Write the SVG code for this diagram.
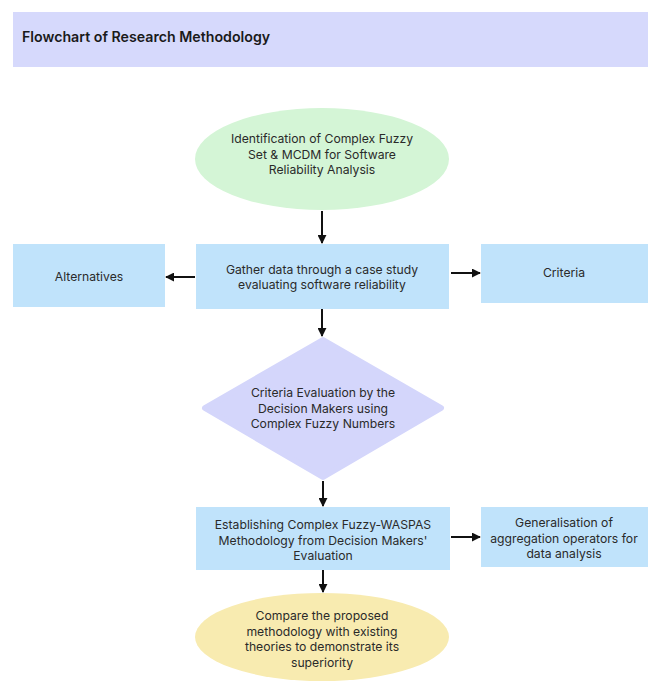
<svg xmlns="http://www.w3.org/2000/svg" width="655" height="681" viewBox="0 0 655 681">
<defs>
<style>
.t{font-family:"Inter","Lato","DejaVu Sans",sans-serif;font-size:12.2px;fill:#2a2a2a;text-anchor:middle}
.box{fill:#c0e3fb}
.c{stroke:#111;stroke-width:2;fill:none}
</style>
<marker id="ah" viewBox="0 0 10 10" refX="9" refY="5" markerWidth="4.5" markerHeight="4.5" orient="auto" markerUnits="strokeWidth">
<path d="M0,0 L10,5 L0,10 z" fill="#111"/>
</marker>
</defs>
<rect width="655" height="681" fill="#fff"/>
<g id="title">
<rect x="13" y="12" width="635" height="55" fill="#d6d9fc"/>
<text x="22" y="42" style="font-family:'Inter','DejaVu Sans',sans-serif;font-size:14.2px;font-weight:600;fill:#1a1a1a">Flowchart of Research Methodology</text>
</g>
<g id="identification">
<ellipse cx="322" cy="159" rx="127" ry="51" fill="#d4f5d6"/>
<text class="t" x="322" y="143">Identification of Complex Fuzzy</text>
<text class="t" x="322" y="158.5">Set &amp; MCDM for Software</text>
<text class="t" x="322" y="174">Reliability Analysis</text>
</g>
<g id="gather">
<rect class="box" x="196" y="244" width="253" height="65"/>
<text class="t" x="322" y="274">Gather data through a case study</text>
<text class="t" x="322" y="289">evaluating software reliability</text>
</g>
<g id="alternatives">
<rect class="box" x="13" y="244" width="152" height="63"/>
<text class="t" x="89" y="281">Alternatives</text>
</g>
<g id="criteria">
<rect class="box" x="481" y="244" width="167" height="59"/>
<text class="t" x="564" y="277">Criteria</text>
</g>
<g id="evaluation">
<path d="M323,340 L441,408 L323,477 L205,408 Z" fill="#d4d6fb" stroke="#d4d6fb" stroke-width="6" stroke-linejoin="round"/>
<text class="t" x="323" y="397">Criteria Evaluation by the</text>
<text class="t" x="323" y="412.5">Decision Makers using</text>
<text class="t" x="323" y="428">Complex Fuzzy Numbers</text>
</g>
<g id="establishing">
<rect class="box" x="196" y="507" width="254" height="63"/>
<text class="t" x="323" y="529">Establishing Complex Fuzzy-WASPAS</text>
<text class="t" x="323" y="544.5">Methodology from Decision Makers'</text>
<text class="t" x="323" y="560">Evaluation</text>
</g>
<g id="generalisation">
<rect class="box" x="481" y="507" width="167" height="60"/>
<text class="t" x="564" y="527">Generalisation of</text>
<text class="t" x="564" y="542.5">aggregation operators for</text>
<text class="t" x="564" y="558">data analysis</text>
</g>
<g id="compare">
<ellipse cx="322" cy="637" rx="127" ry="44" fill="#f8ebb0"/>
<text class="t" x="322" y="620">Compare the proposed</text>
<text class="t" x="322" y="635.5">methodology with existing</text>
<text class="t" x="322" y="651">theories to demonstrate its</text>
<text class="t" x="322" y="666.5">superiority</text>
</g>
<g id="connectors">
<line class="c" x1="322" y1="211" x2="322" y2="243" marker-end="url(#ah)"/>
<line class="c" x1="195" y1="277" x2="166" y2="277" marker-end="url(#ah)"/>
<line class="c" x1="451" y1="273" x2="480" y2="273" marker-end="url(#ah)"/>
<line class="c" x1="322" y1="309" x2="322" y2="336" marker-end="url(#ah)"/>
<line class="c" x1="323" y1="481" x2="323" y2="506" marker-end="url(#ah)"/>
<line class="c" x1="451" y1="537" x2="480" y2="537" marker-end="url(#ah)"/>
<line class="c" x1="323" y1="570" x2="323" y2="592" marker-end="url(#ah)"/>
</g>
</svg>
